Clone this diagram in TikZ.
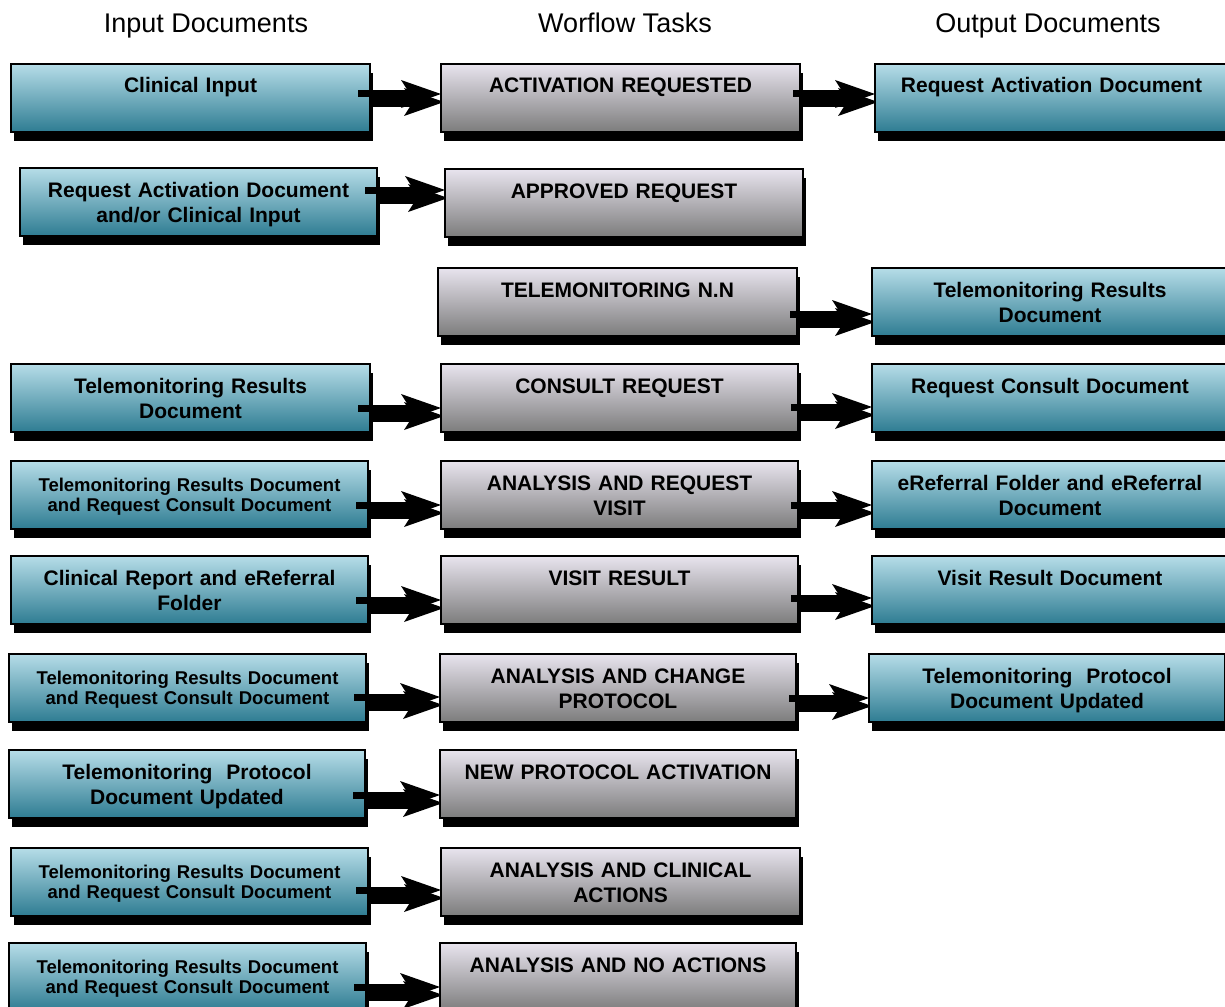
\documentclass[tikz,border=0pt]{standalone}
\usepackage{fontspec}
\setmainfont{Liberation Sans}
\usetikzlibrary{arrows.meta,shadows}
\pgfdeclarelayer{bg}
\pgfsetlayers{bg,main}
\definecolor{docTop}{HTML}{B6DDE8}
\definecolor{docMid}{HTML}{8EC2D1}
\definecolor{docBot}{HTML}{2E7C92}
\definecolor{taskTop}{HTML}{E8E4EE}
\definecolor{taskMid}{HTML}{C4C0C8}
\definecolor{taskBot}{HTML}{7C7C7C}
\tikzset{
  hdr/.style={anchor=base, inner sep=0pt, font=\fontsize{27}{32}\selectfont},
  box/.style={draw=black, line width=2pt, rectangle, inner sep=0pt, outer sep=0pt,
    anchor=north west, align=center,
    font=\bfseries\fontsize{21}{25}\selectfont, text height=29pt, text depth=39pt,
    general shadow={fill=black, shadow xshift=3pt, shadow yshift=-9pt}},
  doc/.style={box, top color=docTop, middle color=docMid, bottom color=docBot},
  task/.style={box, top color=taskTop, middle color=taskMid, bottom color=taskBot},
  small/.style={font=\bfseries\fontsize{18.5}{20}\selectfont, text height=30pt, text depth=38pt},
  flowtip/.style={-{Stealth[length=40pt, width=28pt, inset=9pt, line width=0pt]}},
  flow/.style={draw=black, line width=7pt, flowtip},
  flowshadow/.style={draw=black, line width=11pt, flowtip, transform canvas={xshift=3pt, yshift=-8pt}}
}
\newcommand\flowarrow[2]{%
  \begin{pgfonlayer}{bg}\draw[flowshadow] #1 -- #2;\end{pgfonlayer}%
  \draw[flow] #1 -- #2;}
\begin{document}
\begin{tikzpicture}[x=1pt, y=-1pt]
\begin{pgfonlayer}{bg}
\fill[white] (0,0) rectangle (1225,1006);
\end{pgfonlayer}
\useasboundingbox (0,0) rectangle (1225,1006);

% headers
\node[hdr] (h1) at (206,33) {Input Documents};
\node[hdr] (h2) at (625,33) {Worflow Tasks};
\node[hdr] (h3) at (1048,33) {Output Documents};

% input documents
\node[doc, text width=359pt] (L1) at (11,64) {Clinical Input};
\node[doc, text width=357pt] (L2) at (20,168) {Request Activation Document\\and/or Clinical Input};
\node[doc, text width=359pt] (L3) at (11,364) {Telemonitoring Results\\Document};
\node[doc, small, text width=357pt] (L4) at (11,461) {Telemonitoring Results Document\\and Request Consult Document};
\node[doc, text width=357pt] (L5) at (11,556) {Clinical Report and eReferral\\Folder};
\node[doc, small, text width=357pt] (L6) at (9,654) {Telemonitoring Results Document\\and Request Consult Document};
\node[doc, text width=356pt] (L7) at (9,750) {Telemonitoring\ \ Protocol\\Document Updated};
\node[doc, small, text width=357pt] (L8) at (11,848) {Telemonitoring Results Document\\and Request Consult Document};
\node[doc, small, text width=357pt] (L9) at (9,943) {Telemonitoring Results Document\\and Request Consult Document};

% workflow tasks
\node[task, text width=359pt] (M1) at (441,64) {ACTIVATION REQUESTED};
\node[task, text width=358pt] (M2) at (445,169) {APPROVED REQUEST};
\node[task, text width=359pt] (M3) at (438,268) {TELEMONITORING N.N};
\node[task, text width=357pt] (M4) at (441,364) {CONSULT REQUEST};
\node[task, text width=357pt] (M5) at (441,461) {ANALYSIS AND REQUEST\\VISIT};
\node[task, text width=357pt] (M6) at (441,556) {VISIT RESULT};
\node[task, text width=356pt] (M7) at (440,654) {ANALYSIS AND CHANGE\\PROTOCOL};
\node[task, text width=356pt] (M8) at (440,750) {NEW PROTOCOL ACTIVATION};
\node[task, text width=359pt] (M9) at (441,848) {ANALYSIS AND CLINICAL\\ACTIONS};
\node[task, text width=356pt] (M10) at (440,943) {ANALYSIS AND NO ACTIONS};

% output documents
\node[doc, text width=353pt] (R1) at (875,64) {Request Activation Document};
\node[doc, text width=356pt] (R3) at (872,268) {Telemonitoring Results\\Document};
\node[doc, text width=356pt] (R4) at (872,364) {Request Consult Document};
\node[doc, text width=356pt] (R5) at (872,461) {eReferral Folder and eReferral\\Document};
\node[doc, text width=356pt] (R6) at (872,556) {Visit Result Document};
\node[doc, text width=356pt] (R7) at (869,654) {Telemonitoring\ \ Protocol\\Document Updated};

% input -> task arrows
\flowarrow{([shift={(-12,30)}]L1.north east)}{([shift={(0,30)}]M1.north west)}
\flowarrow{([shift={(-12,22)}]L2.north east)}{([shift={(0,21)}]M2.north west)}
\flowarrow{([shift={(-12,44)}]L3.north east)}{([shift={(0,44)}]M4.north west)}
\flowarrow{([shift={(-12,44)}]L4.north east)}{([shift={(0,44)}]M5.north west)}
\flowarrow{([shift={(-12,44)}]L5.north east)}{([shift={(0,44)}]M6.north west)}
\flowarrow{([shift={(-12,43)}]L6.north east)}{([shift={(0,43)}]M7.north west)}
\flowarrow{([shift={(-12,45)}]L7.north east)}{([shift={(0,45)}]M8.north west)}
\flowarrow{([shift={(-12,42)}]L8.north east)}{([shift={(0,42)}]M9.north west)}
\flowarrow{([shift={(-12,44)}]L9.north east)}{([shift={(0,44)}]M10.north west)}

% task -> output arrows
\flowarrow{([shift={(-7,30)}]M1.north east)}{([shift={(0,30)}]R1.north west)}
\flowarrow{([shift={(-7,46)}]M3.north east)}{([shift={(0,46)}]R3.north west)}
\flowarrow{([shift={(-7,43)}]M4.north east)}{([shift={(0,43)}]R4.north west)}
\flowarrow{([shift={(-7,44)}]M5.north east)}{([shift={(0,44)}]R5.north west)}
\flowarrow{([shift={(-7,42)}]M6.north east)}{([shift={(0,42)}]R6.north west)}
\flowarrow{([shift={(-7,44)}]M7.north east)}{([shift={(0,44)}]R7.north west)}
\end{tikzpicture}
\end{document}
